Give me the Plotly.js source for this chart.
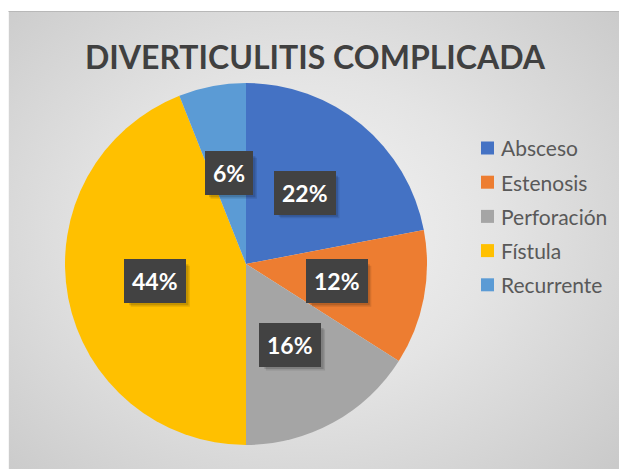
<!DOCTYPE html>
<html>
<head>
<meta charset="utf-8">
<script src="https://cdn.plot.ly/plotly-3.0.1.min.js"></script>
<style>
  html, body { margin: 0; padding: 0; background: #ffffff; }
  #bg { position: absolute; left: 8px; top: 11px; width: 611px; height: 458px;
        background: radial-gradient(ellipse 70% 75% at 48% 48%, #f4f4f4 0%, #e4e4e4 45%, #cacaca 100%);
        border-top: 1px solid #b8b8b8; border-left: 1px solid #f6f6f6; box-sizing: border-box; }
  #chart { position: absolute; left: 0; top: 0; width: 619px; height: 469px; }
</style>
</head>
<body>
<div id="bg"></div>
<div id="chart"></div>
<script>
const chartTitle = 'DIVERTICULITIS COMPLICADA';
const categories = ['Absceso', 'Estenosis', 'Perforación', 'Fístula', 'Recurrente'];
const percentValues = [22, 12, 16, 44, 6];
const sliceColors = ['#4472C4', '#ED7D31', '#A5A5A5', '#FFC000', '#5B9BD5'];

const W = 619, H = 469;
const cx = 246, cy = 264, R = 181;
const fontFam = 'Lato, "Open Sans", sans-serif';

const data = [{
  type: 'pie',
  labels: categories,
  values: percentValues,
  sort: false,
  direction: 'clockwise',
  rotation: 0,
  textinfo: 'none',
  hoverinfo: 'label+percent',
  marker: { colors: sliceColors, line: { width: 0 } },
  domain: { x: [(cx - R) / W, (cx + R) / W], y: [1 - (cy + R) / H, 1 - (cy - R) / H] },
  showlegend: false
}];

const annotations = [];
const shapes = [];
const total = percentValues.reduce((a, b) => a + b, 0);
let cum = 0;
const rLab = 0.51 * R;
percentValues.forEach((v, i) => {
  const mid = (cum + v / 2) / total * 2 * Math.PI;
  cum += v;
  const px = cx + rLab * Math.sin(mid);
  const py = cy - rLab * Math.cos(mid);
  const pct = String(Math.round(v / total * 100));
  // soft drop shadow behind the label box
  const bw = 16 + pct.length * 12.8 + 17.6, bh = 41;
  [[5, 0.10], [3.5, 0.14]].forEach(([off, a]) => {
    shapes.push({
      type: 'rect', xref: 'paper', yref: 'paper', layer: 'above',
      x0: (px - bw / 2 + off) / W, x1: (px + bw / 2 + off) / W,
      y0: 1 - (py + bh / 2 + off) / H, y1: 1 - (py - bh / 2 + off) / H,
      fillcolor: 'rgba(0,0,0,' + a + ')', line: { width: 0 }
    });
  });
  annotations.push({
    x: px / W, y: 1 - py / H, xref: 'paper', yref: 'paper',
    showarrow: false, xanchor: 'center', yanchor: 'middle',
    borderpad: 8, borderwidth: 0, text: '<b>' + pct + '%</b>',
    bgcolor: '#424242', font: { family: fontFam, size: 23, color: '#ffffff' }
  });
});

// legend drawn manually
const legX = 481, legY0 = 148, legStep = 34.2, sq = 13;
categories.forEach((c, i) => {
  const yc = legY0 + i * legStep;
  shapes.push({
    type: 'rect', xref: 'paper', yref: 'paper',
    x0: legX / W, x1: (legX + sq) / W,
    y0: 1 - (yc + sq / 2) / H, y1: 1 - (yc - sq / 2) / H,
    fillcolor: sliceColors[i], line: { width: 0 }
  });
  annotations.push({
    x: (legX + sq + 5) / W, y: 1 - yc / H, xref: 'paper', yref: 'paper',
    showarrow: false, xanchor: 'left', yanchor: 'middle',
    text: c, font: { family: fontFam, size: 21, color: '#595959' }
  });
});

const layout = {
  width: W, height: H,
  margin: { l: 0, r: 0, t: 0, b: 0 },
  paper_bgcolor: 'rgba(0,0,0,0)',
  plot_bgcolor: 'rgba(0,0,0,0)',
  title: {
    text: '<b>' + chartTitle + '</b>',
    x: 315 / W, xanchor: 'center', xref: 'paper',
    y: 1 - 58 / H, yanchor: 'middle', yref: 'container',
    font: { family: fontFam, size: 32, color: '#404040' }
  },
  showlegend: false,
  annotations: annotations,
  shapes: shapes
};

Plotly.newPlot('chart', data, layout, { displayModeBar: false, staticPlot: true });
</script>
</body>
</html>
